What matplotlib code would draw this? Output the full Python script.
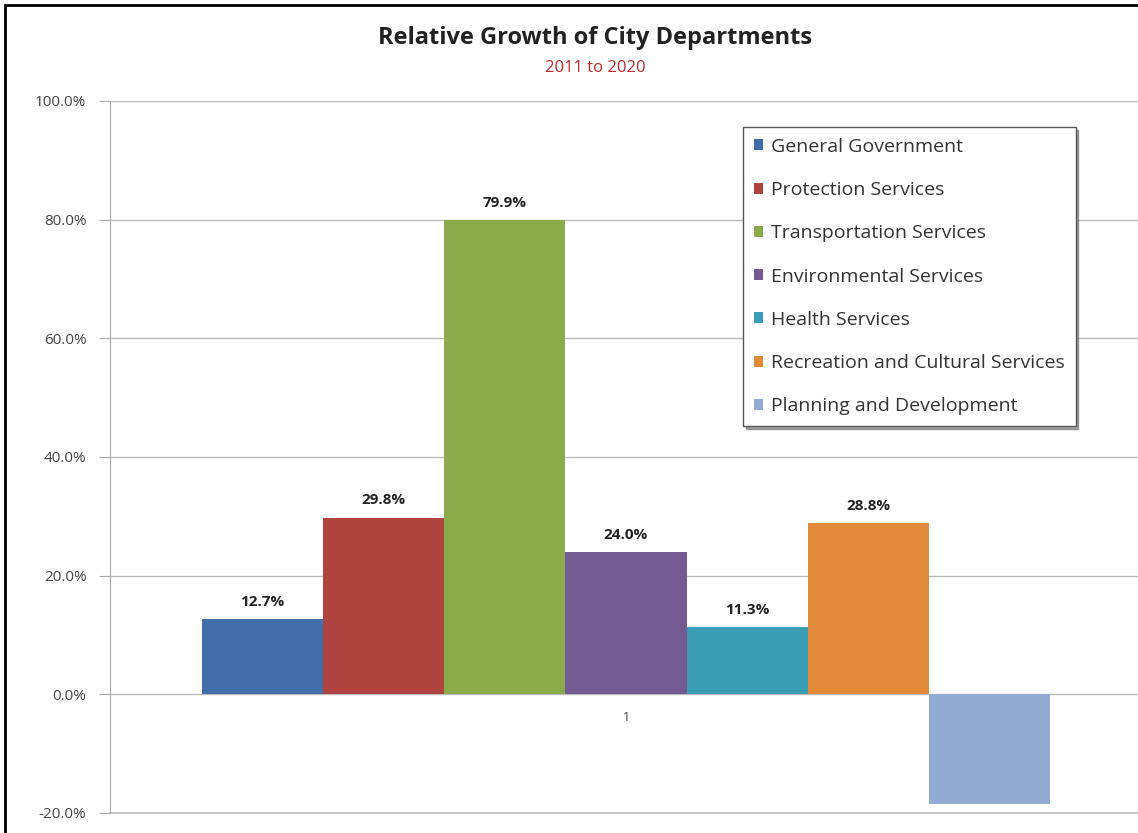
import matplotlib.pyplot as plt
import numpy as np
from matplotlib.patches import Rectangle

departments = ["General Government", "Protection Services", "Transportation Services",
               "Environmental Services", "Health Services",
               "Recreation and Cultural Services", "Planning and Development"]
growth = [12.7, 29.8, 79.9, 24.0, 11.3, 28.8, -18.5]
show_label = [True, True, True, True, True, True, False]
colors = ["#3F6EA8", "#B0423F", "#8BAA4C", "#745A93", "#3A9DB5", "#E08A3A", "#93AAD2"]
yticks = [-20, 0, 20, 40, 60, 80, 100]

plt.rcParams['font.family'] = ['Open Sans', 'DejaVu Sans']

fig = plt.figure(figsize=(11.38, 8.33), dpi=100)
ax = fig.add_axes([110 / 1138, 1 - 813 / 833, 1032 / 1138, 712 / 833])

x = np.arange(len(growth))
bars = ax.bar(x, growth, width=1.0, color=colors, label=departments, zorder=3)
for xi, v, s in zip(x, growth, show_label):
    if s:
        ax.text(xi, v + 1.7, "%.1f%%" % v, ha="center", va="bottom",
                fontsize=11, fontweight="bold", color="#222222", zorder=4)

ax.set_ylim(-20, 100)
ax.set_xlim(-0.5 - 0.76, 6.5 + 0.76)
ax.set_yticks(yticks)
ax.set_yticklabels(["%.1f%%" % t for t in yticks], fontsize=11, color="#444444")
ax.set_xticks([])
# category label sits under the zero line, as in the original
ax.text(3, -3.9, "1", ha="center", va="center", fontsize=9, color="#444444")
ax.tick_params(axis="y", length=8, color="#AAAAAA", pad=9)
ax.yaxis.grid(True, color="#BBBBBB", linewidth=1, zorder=0)
ax.axhline(-20, color="#BBBBBB", linewidth=1.2, clip_on=False, zorder=0)
for side in ["top", "right", "bottom"]:
    ax.spines[side].set_visible(False)
ax.spines["left"].set_color("#AAAAAA")

leg = ax.legend(loc="upper left", bbox_to_anchor=((743 - 110) / 1032, (813 - 127) / 712),
                fontsize=14, frameon=True, fancybox=False, shadow=True,
                handlelength=0.5, handleheight=0.5, handletextpad=0.4,
                labelspacing=1.3, borderpad=0.55, borderaxespad=0)
leg.get_frame().set_edgecolor("#555555")
leg.get_frame().set_linewidth(1.0)
for t in leg.get_texts():
    t.set_color("#333333")

fig.text(0.523, 1 - 38 / 833, "Relative Growth of City Departments", ha="center", va="center",
         fontsize=17, fontweight="bold", color="#222222")
fig.text(0.523, 1 - 68 / 833, "2011 to 2020", ha="center", va="center",
         fontsize=12, color="#C0282D")

fig.patches.append(Rectangle((5 / 1138, -0.01), 1.02, 1 - 5 / 833 + 0.01, transform=fig.transFigure,
                             fill=False, edgecolor="black", linewidth=2))

fig.savefig("out.png", dpi=100)
